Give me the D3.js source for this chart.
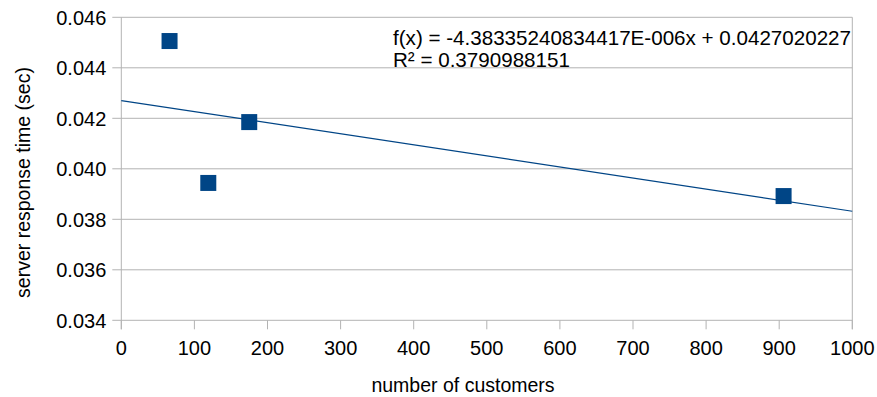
<!DOCTYPE html>
<html><head><meta charset="utf-8">
<script src="https://cdn.jsdelivr.net/npm/d3@7"></script>
<style>body{margin:0;background:#fff}svg{display:block}text{font-family:"Liberation Sans",Arial,sans-serif;fill:#000}</style>
</head><body>
<svg id="c" width="877" height="397"></svg>
<script>
const customers = [66, 119, 175, 906];
const responseTimes = [0.04506, 0.03944, 0.04185, 0.03892];
const xTicks = [0,100,200,300,400,500,600,700,800,900,1000];
const yTicks = [0.034,0.036,0.038,0.040,0.042,0.044,0.046];
const trendSlope = -4.38335240834417e-6;
const trendIntercept = 0.0427020227;
const equationLines = ["f(x) = -4.38335240834417E-006x + 0.0427020227", "R² = 0.3790988151"];

const svg = d3.select("#c");
const x = d3.scaleLinear().domain([0,1000]).range([121.3,852.3]);
const y = d3.scaleLinear().domain([0.034,0.046]).range([320.3,17.3]);
const grid = "#b3b3b3";

// horizontal grid
svg.append("g").selectAll("line").data(yTicks).join("line")
  .attr("x1", x(0)-9).attr("x2", x(1000))
  .attr("y1", d=>y(d)).attr("y2", d=>y(d))
  .attr("stroke", grid).attr("stroke-width",1);
// axes
svg.append("line").attr("x1",x(0)).attr("x2",x(0)).attr("y1",y(0.046)).attr("y2",y(0.034)+9).attr("stroke",grid);
svg.append("line").attr("x1",x(1000)).attr("x2",x(1000)).attr("y1",y(0.046)).attr("y2",y(0.034)+9).attr("stroke",grid);
svg.append("g").selectAll("line").data(xTicks).join("line")
  .attr("x1",d=>x(d)).attr("x2",d=>x(d)).attr("y1",y(0.034)).attr("y2",y(0.034)+9).attr("stroke",grid);

// tick labels
svg.append("g").selectAll("text").data(yTicks).join("text")
  .attr("x", x(0)-15).attr("y", d=>y(d)).attr("dy","0.36em")
  .attr("text-anchor","end").attr("font-size",20)
  .text(d=>d3.format(".3f")(d));
svg.append("g").selectAll("text").data(xTicks).join("text")
  .attr("x", d=>x(d)).attr("y", y(0.034)+35)
  .attr("text-anchor","middle").attr("font-size",20)
  .text(d=>d);

// trend line
svg.append("line")
  .attr("x1",x(0)).attr("y1",y(trendIntercept))
  .attr("x2",x(1000)).attr("y2",y(trendIntercept+trendSlope*1000))
  .attr("stroke","#004586").attr("stroke-width",1.2);

// points
const s = 16;
svg.append("g").selectAll("rect").data(customers.map((c,i)=>[c,responseTimes[i]])).join("rect")
  .attr("x",d=>x(d[0])-s/2).attr("y",d=>y(d[1])-s/2).attr("width",s).attr("height",s)
  .attr("fill","#004586");

// equation
svg.append("g").selectAll("text").data(equationLines).join("text")
  .attr("x",393).attr("y",(d,i)=>44.5+i*22).attr("font-size",20.6).text(d=>d);

// axis titles
svg.append("text").attr("x",463).attr("y",392).attr("text-anchor","middle").attr("font-size",19.5).text("number of customers");
svg.append("text").attr("transform","translate(30,182.5) rotate(-90)").attr("text-anchor","middle").attr("font-size",19.5).text("server response time (sec)");
</script>
</body></html>
